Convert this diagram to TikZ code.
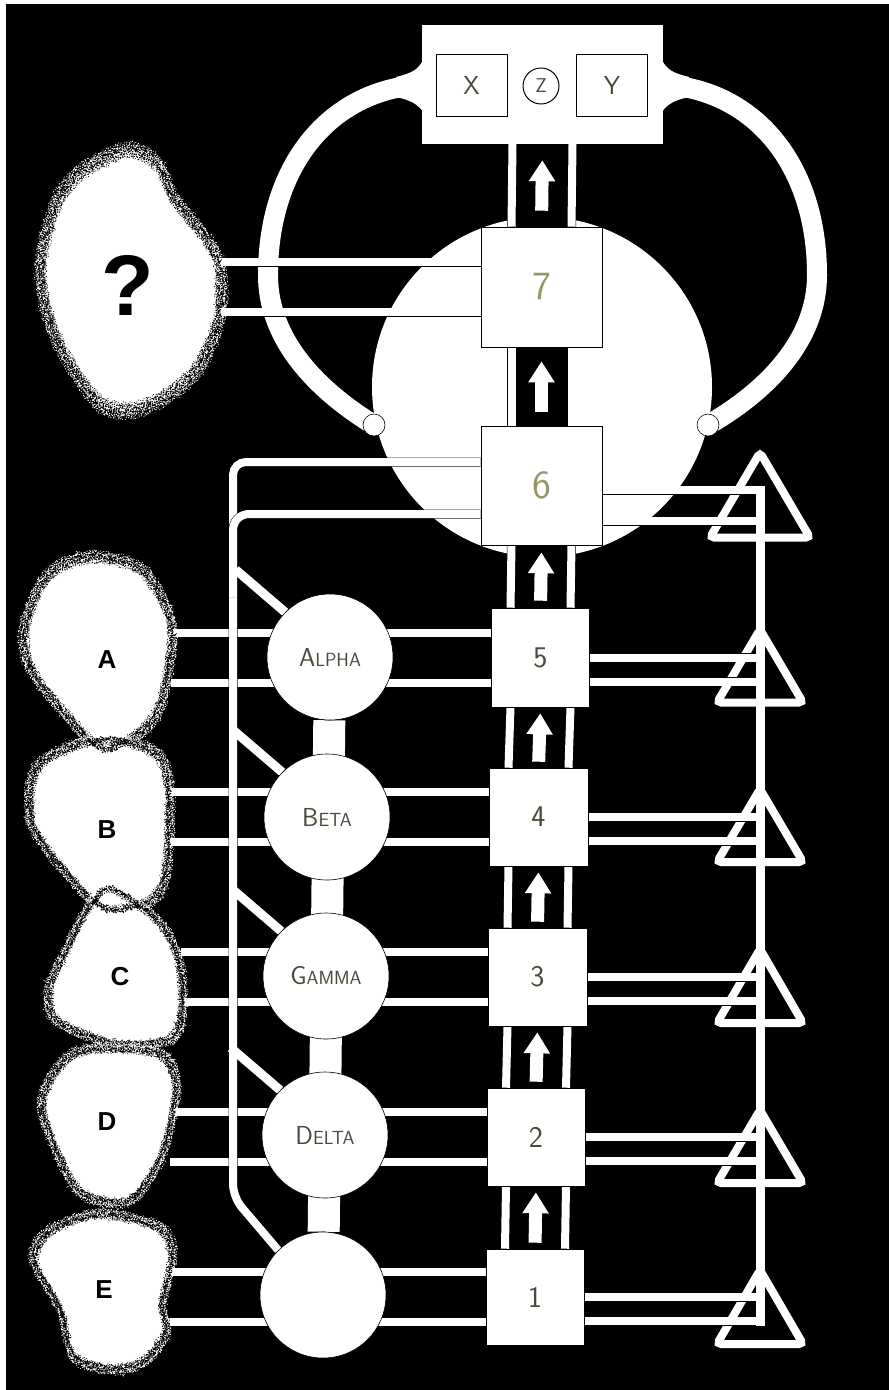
\documentclass[tikz,border=0pt]{standalone}
\usepackage{fontspec}
\usepackage{tikz}
\usetikzlibrary{arrows.meta,calc,decorations.pathmorphing}
\newfontfamily\blobfont{Liberation Sans}
\definecolor{pencil}{RGB}{72,74,58}
\definecolor{pencilpale}{RGB}{150,150,105}
\pgfdeclarelayer{bg}
\pgfdeclarelayer{wires}
\pgfsetlayers{bg,wires,main}
\newcommand{\hand}[2]{{\fontsize{26}{26}\selectfont #1}{\fontsize{19}{19}\selectfont #2}}
% source outlines
\newcommand{\blobQ}{plot[smooth cycle] coordinates {(127,149) (158,163) (175,198) (207,238) (221,268) (220,318) (200,367) (170,395) (135,411) (100,405) (62,352) (43,300) (41,255) (57,200) (82,170)}}
\newcommand{\blobA}{plot[smooth cycle] coordinates {(90,556) (140,567) (167,607) (173,640) (163,700) (147,728) (107,752) (77,728) (32,673) (23,633) (37,590) (57,567)}}
\newcommand{\blobB}{plot[smooth cycle] coordinates {(107,737) (157,753) (170,790) (167,873) (150,902) (110,912) (80,890) (32,827) (33,773) (57,752)}}
\newcommand{\blobC}{plot[smooth cycle] coordinates {(110,886) (160,922) (180,962) (183,1013) (170,1040) (117,1045) (57,1022) (48,990) (67,947) (85,912)}}
\newcommand{\blobD}{plot[smooth cycle] coordinates {(105,1047) (160,1053) (177,1083) (170,1130) (157,1167) (127,1203) (77,1190) (43,1117) (47,1083) (70,1055)}}
\newcommand{\blobE}{plot[smooth cycle] coordinates {(100,1213) (160,1227) (173,1257) (163,1303) (167,1333) (143,1363) (110,1370) (73,1357) (60,1310) (33,1260) (50,1230)}}
% stippled rim of a source
\newcommand{\stipple}[2]{%
	\foreach \bs/\bc/\bw in {1.05/white/.7, 1.035/white/.9, 1.02/white/1.1, 1.005/white/1.2, .994/black/1.5, .982/black/1.4, .97/black/1.2, .958/black/1, .946/black/.8, .934/black/.6}
		\draw[\bc, line width=\bw pt, dash pattern=on 1pt off 1.6pt, fuzz, scale around={\bs:#1}] #2;
}

\begin{document}
\begin{tikzpicture}[x=1pt, y=-1pt,
	fuzz/.style={decorate, decoration={random steps, segment length=1.6pt, amplitude=1.8pt}},
	wire/.style={draw=black, double=white, double distance=8pt, line width=.5pt},
	bare/.style={draw=white, line width=9pt},
	ring/.style={draw=white, line width=20pt},
	spine/.style={draw=white, line width=32pt},
	lift/.style={draw=white, line width=13pt, -{Triangle[length=21pt, width=25pt]}},
	tri/.style={wire, rounded corners=4pt},
	knob/.style={circle, draw=black, fill=white, line width=.6pt, minimum size=22pt, inner sep=0pt},
	stagebox/.style={draw=black, fill=white, line width=.6pt, minimum width=98pt, minimum height=98pt, inner sep=0pt, text=pencil, font=\sffamily\fontsize{30}{30}\selectfont},
	bigstage/.style={stagebox, minimum width=121pt, minimum height=120pt, text=pencilpale, font=\sffamily\fontsize{40}{40}\selectfont},
	greek/.style={circle, draw=black, fill=white, line width=.6pt, minimum size=126pt, inner sep=0pt, text=pencil, font=\sffamily},
	cell/.style={draw=black, fill=white, line width=1pt, minimum width=71pt, minimum height=62pt, inner sep=0pt, text=pencil, font=\sffamily\fontsize{26}{26}\selectfont},
	tag/.style={font=\blobfont\bfseries\fontsize{26}{26}\selectfont}]
	\pgfmathsetseed{7}
	\useasboundingbox (0,0) rectangle (889,1390);

	% output unit
	\node[fill=white, minimum width=241pt, minimum height=119pt, inner sep=0pt] (top) at (542.5,84.5) {};
	\node[cell] (xc) at (471.5,85) {X};
	\node[circle, draw=black, line width=1pt, minimum size=36pt, inner sep=0pt, text=pencil, font=\sffamily\fontsize{20}{20}\selectfont] (zc) at (541,86) {Z};
	\node[cell] (yc) at (612,85) {Y};

	% stages
	\node[bigstage] (b7) at (541.5,287) {7};
	\node[bigstage, minimum height=119pt] (b6) at (541.5,485.5) {6};
	\node[stagebox, minimum height=99pt] (b5) at (540.5,657.5) {5};
	\node[stagebox, minimum width=99pt] (b4) at (538.5,817) {4};
	\node[stagebox, minimum width=99pt] (b3) at (537.5,977) {3};
	\node[stagebox] (b2) at (536,1137) {2};
	\node[stagebox, minimum height=96pt] (b1) at (535,1297) {1};

	\node[greek] (c5) at (330,657) {\hand{A}{LPHA}};
	\node[greek] (c4) at (327,817) {\hand{B}{ETA}};
	\node[greek] (c3) at (326,976) {\hand{G}{AMMA}};
	\node[greek] (c2) at (325,1135) {\hand{D}{ELTA}};
	\node[greek] (c1) at (323,1295) {};

	\node[knob] (kl) at (374,425) {};
	\node[knob] (kr) at (708,425) {};

	\coordinate (trunk) at (760,0);
	\coordinate (eq) at (218,0);
	\coordinate (busL) at (233,1197);

	\begin{pgfonlayer}{bg}
		\fill[white] (0,0) rectangle (889,1390);
		\fill[black] (6,4) rectangle (889,1390);
		\draw[ring] (top.west) .. controls (330,90) and (268,165) .. (268,275) .. controls (268,345) and (325,395) .. (kl.center);
		\draw[ring] (top.east) .. controls (755,90) and (817,165) .. (817,275) .. controls (817,345) and (760,395) .. (kr.center);
		\fill[white] (423,60) .. controls (418,70) and (412,73) .. (396,77) -- (396,97) .. controls (410,100) and (418,104) .. (423,112) -- cycle;
		\fill[white] (662,60) .. controls (667,70) and (673,73) .. (689,77) -- (689,97) .. controls (675,100) and (667,104) .. (662,112) -- cycle;
		\fill[white] (542,387) circle[radius=170];
	\end{pgfonlayer}

	\begin{pgfonlayer}{wires}
		% feedback triangles
		\foreach \b/\u/\d/\w in {b6/33/52/50, b5/28/45/43, b4/28/45/43, b3/28/46/43, b2/27/46/43, b1/27/47/43}
			\draw[tri] ($(\b.center -| trunk)+(0,-\u)$) -- ($(\b.center -| trunk)+(-\w,\d)$) -- ($(\b.center -| trunk)+(\w,\d)$) -- cycle;
		% inputs
		\foreach \i/\e in {5/171, 4/170, 3/181, 2/170, 1/170}{
			\coordinate (e\i) at (\e,0);
			\draw[wire] ($(b\i.west)+(0,-25)$) -- ($(b\i.west -| e\i)+(0,-25)$);
			\draw[wire] ($(b\i.west)+(0,25)$) -- ($(b\i.west -| e\i)+(0,25)$);
			\draw[wire] ($(b\i.east)+(0,0)$) -- ($(b\i.east -| trunk)+(0,0)$);
			\draw[wire] ($(b\i.east)+(0,24)$) -- ($(b\i.east -| trunk)+(0,24)$);
		}
		\draw[wire] ($(b6.east)+(0,4.5)$) -- ($(b6.east -| trunk)+(0,4.5)$);
		\draw[wire] ($(b6.east)+(0,35.5)$) -- ($(b6.east -| trunk)+(0,35.5)$);
		\draw[wire] ($(b7.west)+(0,-25)$) -- ($(b7.west -| eq)+(0,-25)$);
		\draw[wire] ($(b7.west)+(0,25)$) -- ($(b7.west -| eq)+(0,25)$);
		% left bus
		\draw[wire, rounded corners=13pt] ($(b6.west)+(0,-23.5)$) -| (busL) -- (c1.135);
		\draw[wire, rounded corners=16pt] ($(b6.west)+(0,28.5)$) -| ($(busL)+(0,-600)$);
		\foreach \c in {c5,c4,c3,c2}
			\draw[bare] (\c.135) -- ++(-49.5,-42.5);
		\draw[bare, line cap=rect] ($(b6.east -| trunk)+(0,4.5)$) -- ($(b1.east -| trunk)+(0,24)$);
		% channels
		\foreach \lo/\hi/\g in {b1/b2/6pt, b2/b3/6pt, b3/b4/6pt, b4/b5/6pt, b5/b6/7pt, b6/b7/14pt, b7/top/16pt}{
			\fill[black] ($(\lo.north)+(-30,0)$) rectangle ($(\hi.south)+(30,0)$);
			\draw[wire] ($(\lo.north)+(-30,0)$) -- ($(\hi.south)+(-30,0)$);
			\draw[wire] ($(\lo.north)+(30,0)$) -- ($(\hi.south)+(30,0)$);
			\draw[lift, shorten <=\g, shorten >=\g] (\lo.north) -- (\hi.south);
		}
		\draw[spine] (c5) -- (c1);
	\end{pgfonlayer}

	% sources
	\fill[white] \blobQ;
	\fill[white] \blobA;
	\fill[white] \blobB;
	\fill[white] \blobC;
	\fill[white] \blobD;
	\fill[white] \blobE;
	\stipple{(130,282)}{\blobQ}
	\stipple{(100,650)}{\blobA}
	\stipple{(100,822)}{\blobB}
	\stipple{(118,975)}{\blobC}
	\stipple{(110,1125)}{\blobD}
	\stipple{(105,1290)}{\blobE}
	\node[font=\blobfont\bfseries\fontsize{86}{86}\selectfont] (qm) at (128,285) {?};
	\node[tag] (la) at (107,660) {A};
	\node[tag] (lb) at (107,830) {B};
	\node[tag] (lc) at (120,977) {C};
	\node[tag] (ld) at (107,1122) {D};
	\node[tag] (le) at (104,1290) {E};
\end{tikzpicture}
\end{document}
